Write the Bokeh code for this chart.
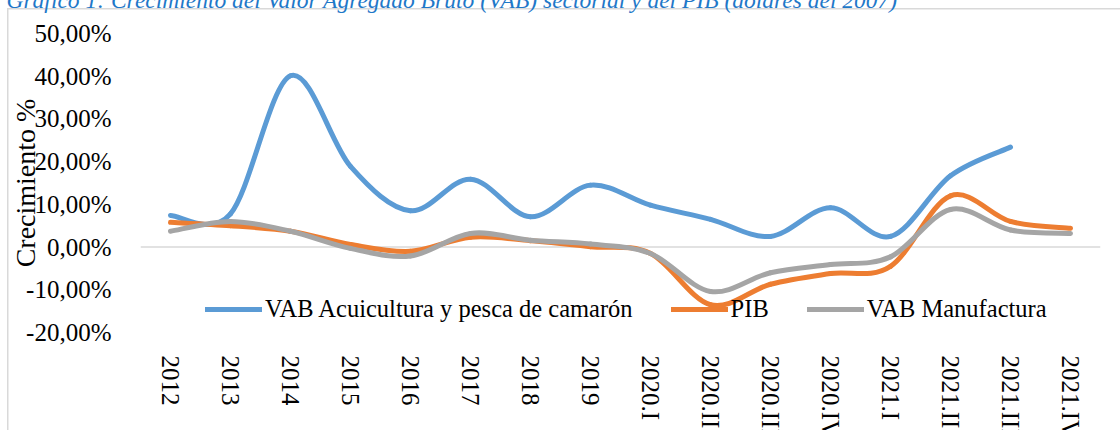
import math
from bokeh.plotting import figure
from bokeh.models import Range1d, FixedTicker, Span, Legend, LegendItem, ColumnDataSource
from bokeh.embed import file_html
from bokeh.resources import INLINE

# ---------------- data ----------------
categories = ["2012", "2013", "2014", "2015", "2016", "2017", "2018", "2019",
              "2020.I", "2020.II", "2020.III", "2020.IV",
              "2021.I", "2021.II", "2021.III", "2021.IV"]
acuicultura = [7.4, 7.8, 40.1, 18.9, 8.5, 15.9, 7.1, 14.5,
               9.8, 6.5, 2.5, 9.2, 2.5, 16.7, 23.4, None]
pib = [5.8, 5.0, 3.7, 0.6, -1.0, 2.3, 1.5, 0.1,
       -1.5, -13.5, -8.7, -6.2, -4.5, 12.0, 6.0, 4.4]
manufactura = [3.7, 6.0, 3.7, -0.3, -2.1, 3.2, 1.6, 0.7,
               -1.5, -10.4, -6.0, -4.1, -2.3, 8.8, 4.0, 3.2]
series_names = ["VAB Acuicultura y pesca de camarón", "PIB", "VAB Manufactura"]
series_colors = ["#5B9BD5", "#ED7D31", "#A5A5A5"]
ytick_values = [-20, -10, 0, 10, 20, 30, 40, 50]
ytick_labels = ["-20,00%", "-10,00%", "0,00%", "10,00%", "20,00%", "30,00%", "40,00%", "50,00%"]
title_text = "Gráfico 1: Crecimiento del Valor Agregado Bruto (VAB) sectorial y del PIB (dólares del 2007)"
y_title = "Crecimiento %"

FONT = "Liberation Serif"
SHIFT = 34  # canvas starts above the page top, so the title is cut like in the original


def smooth_segments(values):
    """Bezier segments (Excel-style smoothed line) passing through the data points."""
    pts = [(float(i), float(v)) for i, v in enumerate(values) if v is not None]
    n = len(pts)
    seg = dict(x0=[], y0=[], x1=[], y1=[], cx0=[], cy0=[], cx1=[], cy1=[])
    for k in range(n - 1):
        p0 = pts[k - 1] if k > 0 else pts[k]
        p1 = pts[k]
        p2 = pts[k + 1]
        p3 = pts[k + 2] if k + 2 < n else pts[k + 1]
        seg["x0"].append(p1[0]); seg["y0"].append(p1[1])
        seg["x1"].append(p2[0]); seg["y1"].append(p2[1])
        seg["cx0"].append(p1[0] + (p2[0] - p0[0]) / 6.0)
        seg["cy0"].append(p1[1] + (p2[1] - p0[1]) / 6.0)
        seg["cx1"].append(p2[0] - (p3[0] - p1[0]) / 6.0)
        seg["cy1"].append(p2[1] - (p3[1] - p1[1]) / 6.0)
    return seg


p = figure(width=1130, height=441 + SHIFT, output_backend="svg", toolbar_location=None,
           x_range=Range1d(-0.5, len(categories) - 0.5), y_range=Range1d(-20, 50),
           min_border_left=140, min_border_right=30, min_border_top=33 + SHIFT, min_border_bottom=105,
           title=title_text)
# transparent canvas: the host's inset shadows give the light chart-area border (left/top)
p.styles = {"margin-top": f"-{SHIFT}px",
            "box-shadow": f"inset 7px {8 + SHIFT}px 0 0 #FFFFFF, inset 8.5px {9.5 + SHIFT}px 0 0 #D9D9D9"}
p.background_fill_color = None
p.border_fill_color = None
p.outline_line_color = None
p.grid.visible = False

p.title.text_font = FONT
p.title.text_font_style = "italic"
p.title.text_font_size = "23.5px"
p.title.text_color = "#1F78C8"
p.title.align = "left"
p.title.vertical_align = "top"
p.title.offset = -134
p.title.standoff = 38

# zero line (category axis position)
zero = Span(location=0, dimension="width", line_color="#D9D9D9", line_width=1.5, level="underlay")
p.add_layout(zero)

renderers = []
for vals, color in zip([acuicultura, pib, manufactura], series_colors):
    src = ColumnDataSource(smooth_segments(vals))
    r = p.bezier(x0="x0", y0="y0", x1="x1", y1="y1", cx0="cx0", cy0="cy0", cx1="cx1", cy1="cy1",
                 source=src, line_color=color, line_width=5, line_cap="round")
    renderers.append(r)

# x axis
p.xaxis.ticker = FixedTicker(ticks=list(range(len(categories))))
p.xaxis.major_label_overrides = {i: c for i, c in enumerate(categories)}
p.xaxis.major_label_orientation = -math.pi / 2
p.xaxis.axis_line_color = None
p.xaxis.major_tick_line_color = None
p.xaxis.minor_tick_line_color = None
p.xaxis.major_label_standoff = 17
p.xaxis.major_label_text_font = FONT
p.xaxis.major_label_text_font_size = "25px"
p.xaxis.major_label_text_color = "#000000"

# y axis
p.yaxis.ticker = FixedTicker(ticks=ytick_values)
p.yaxis.major_label_overrides = {v: l for v, l in zip(ytick_values, ytick_labels)}
p.yaxis.axis_line_color = None
p.yaxis.major_tick_line_color = None
p.yaxis.minor_tick_line_color = None
p.yaxis.major_label_standoff = 23
p.yaxis.major_label_text_font = FONT
p.yaxis.major_label_text_font_size = "25px"
p.yaxis.major_label_text_color = "#000000"
p.yaxis.axis_label = y_title
p.yaxis.axis_label_standoff = -18
p.yaxis.axis_label_text_font = FONT
p.yaxis.axis_label_text_font_style = "normal"
p.yaxis.axis_label_text_font_size = "28px"
p.yaxis.axis_label_text_color = "#000000"

legend = Legend(items=[LegendItem(label=n, renderers=[r], index=0) for n, r in zip(series_names, renderers)],
                location=(65, 9), orientation="horizontal", background_fill_alpha=0,
                border_line_color=None, padding=0, margin=0, spacing=38, glyph_width=57,
                glyph_height=24, label_height=24, label_standoff=3, label_text_font=FONT,
                label_text_font_size="24.5px", label_text_color="#000000")
p.add_layout(legend)

open("out.html", "w").write(file_html(p, INLINE))
